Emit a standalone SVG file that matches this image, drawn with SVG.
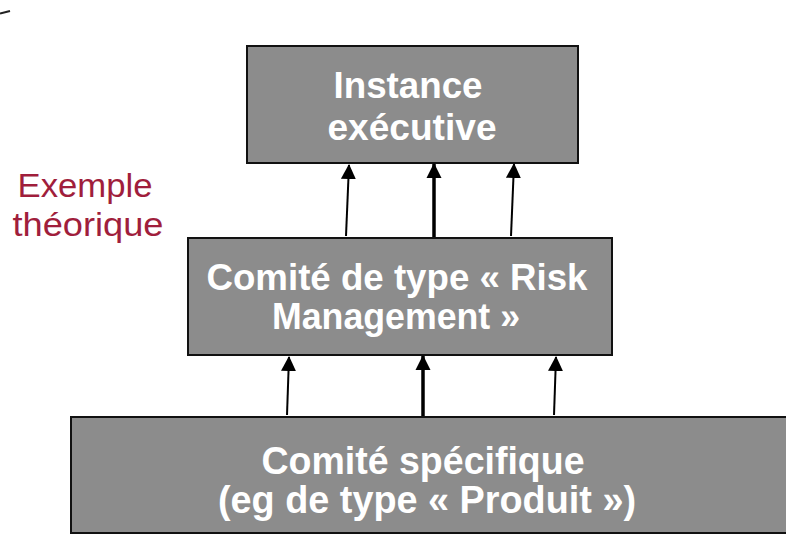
<svg xmlns="http://www.w3.org/2000/svg" width="786" height="535" viewBox="0 0 786 535">
<style>
.box{fill:#8c8c8c;stroke:#111;stroke-width:2}
.lbl{font-family:"Liberation Sans",Arial,sans-serif;font-weight:bold;fill:#fff;text-anchor:middle}
.side{font-family:"Liberation Sans",Arial,sans-serif;fill:#a01e3c;font-size:34px;text-anchor:middle}
.thin{stroke:#000;stroke-width:2;fill:none}
.thick{stroke:#000;stroke-width:3.5;fill:none}
</style>
<defs>
<marker id="ah" markerUnits="userSpaceOnUse" markerWidth="16" markerHeight="16" refX="14" refY="7.5" orient="auto" viewBox="0 0 16 15">
<path d="M0,0 L15,7.5 L0,15 z" fill="#000"/>
</marker>
</defs>
<line x1="0" y1="13.5" x2="10" y2="11" stroke="#222" stroke-width="2"/>
<g id="instance-executive">
<rect class="box" x="247" y="46" width="331" height="117"/>
<text class="lbl" x="408" y="98" font-size="37" textLength="149" lengthAdjust="spacingAndGlyphs">Instance</text>
<text class="lbl" x="412" y="140" font-size="37" textLength="169" lengthAdjust="spacingAndGlyphs">exécutive</text>
</g>
<g id="comite-risk">
<rect class="box" x="188" y="238" width="424" height="117"/>
<text class="lbl" x="397" y="290" font-size="36" textLength="381" lengthAdjust="spacingAndGlyphs">Comité de type « Risk</text>
<text class="lbl" x="396" y="329" font-size="36" textLength="248" lengthAdjust="spacingAndGlyphs">Management »</text>
</g>
<g id="comite-specifique">
<rect class="box" x="71" y="417" width="720" height="116"/>
<text class="lbl" x="423" y="474" font-size="39" textLength="323" lengthAdjust="spacingAndGlyphs">Comité spécifique</text>
<text class="lbl" x="427" y="513" font-size="39" textLength="418" lengthAdjust="spacingAndGlyphs">(eg de type « Produit »)</text>
</g>
<g id="exemple-label">
<text class="side" x="85" y="197" textLength="135" lengthAdjust="spacingAndGlyphs">Exemple</text>
<text class="side" x="88" y="236" textLength="151" lengthAdjust="spacingAndGlyphs">théorique</text>
</g>
<g id="connectors">
<line class="thin" x1="346" y1="236" x2="349" y2="165" marker-end="url(#ah)"/>
<line class="thick" x1="434" y1="237" x2="434" y2="164" marker-end="url(#ah)"/>
<line class="thin" x1="511" y1="236" x2="514" y2="164" marker-end="url(#ah)"/>
<line class="thin" x1="287" y1="415" x2="289" y2="357" marker-end="url(#ah)"/>
<line class="thick" x1="423" y1="416" x2="423" y2="356" marker-end="url(#ah)"/>
<line class="thin" x1="554" y1="415" x2="556" y2="357" marker-end="url(#ah)"/>
</g>
</svg>
